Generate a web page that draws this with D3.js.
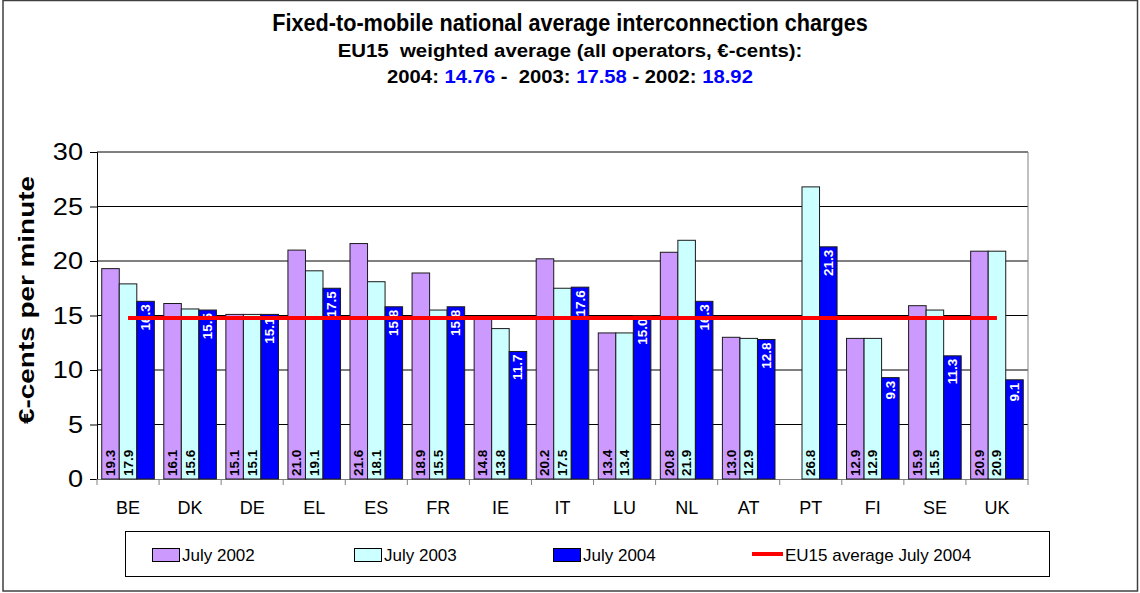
<!DOCTYPE html>
<html><head><meta charset="utf-8">
<script src="https://cdn.jsdelivr.net/npm/d3@7"></script>
<style>body{margin:0;background:#fff}text{font-family:"Liberation Sans",Arial,sans-serif}</style>
</head><body>
<svg id="c" width="1140" height="593"></svg>
<script>
const categories=["BE","DK","DE","EL","ES","FR","IE","IT","LU","NL","AT","PT","FI","SE","UK"];
const seriesNames=["July 2002","July 2003","July 2004"];
const v2002=[19.3,16.1,15.1,21.0,21.6,18.9,14.8,20.2,13.4,20.8,13.0,null,12.9,15.9,20.9];
const v2003=[17.9,15.6,15.1,19.1,18.1,15.5,13.8,17.5,13.4,21.9,12.9,26.8,12.9,15.5,20.9];
const v2004=[16.3,15.5,15.1,17.5,15.8,15.8,11.7,17.6,15.0,16.3,12.8,21.3,9.3,11.3,9.1];
const avgName="EU15 average July 2004";
const avg2004=14.76;
const avg2003=17.58;
const avg2002=18.92;
const yTicks=[0,5,10,15,20,25,30];
const colors=["#CC99FF","#CCFFFF","#0000FF"];

const svg=d3.select("#c");
svg.append("rect").attr("x",3).attr("y",0.5).attr("width",1134.5).attr("height",590.5)
  .attr("fill","#fff").attr("stroke","#404040").attr("stroke-width",1.5);

const L=97,R=1028,T=152,B=479;
const x=d3.scaleBand().domain(categories).range([L,R]);
const inner=d3.scaleBand().domain(seriesNames).range([0,x.bandwidth()]).paddingOuter(0.27);
const y=d3.scaleLinear().domain([0,30]).range([B,T]);

// gridlines
svg.append("g").selectAll("line").data(yTicks.filter(d=>d>0)).join("line")
  .attr("x1",L).attr("x2",R).attr("y1",d=>y(d)).attr("y2",d=>y(d))
  .attr("stroke","#000").attr("stroke-width",1);
svg.append("line").attr("x1",R).attr("x2",R).attr("y1",T).attr("y2",B).attr("stroke","#808080");

// y axis
const yAxis=d3.axisLeft(y).tickValues(yTicks).tickSize(7).tickPadding(0).tickFormat(()=>"");
const ya=svg.append("g").attr("transform",`translate(${L},0)`).call(yAxis);
ya.select(".domain").attr("stroke","#000");
ya.selectAll(".tick line").attr("stroke","#000");
svg.append("g").selectAll("g").data(yTicks).join("g")
  .attr("transform",d=>`translate(83,${y(d)}) scale(1.18,1)`)
  .append("text").attr("text-anchor","end").attr("dominant-baseline","central")
  .attr("font-size",23).attr("fill","#000").text(d=>d);

// x axis
const xa=svg.append("g").attr("transform",`translate(0,${B})`)
  .call(d3.axisBottom(x).tickSize(0).tickPadding(22));
xa.select(".domain").attr("stroke","#808080");
xa.selectAll(".tick text").attr("font-size",18).attr("fill","#000")
  .attr("font-family","'Liberation Sans',Arial,sans-serif");
svg.append("g").selectAll("line").data(categories.concat(["__end"])).join("line")
  .attr("x1",(d,i)=>i<categories.length?x(d):R).attr("x2",(d,i)=>i<categories.length?x(d):R)
  .attr("y1",B).attr("y2",B+6).attr("stroke","#808080");

// bars
const series=[v2002,v2003,v2004];
series.forEach((vals,si)=>{
  const g=svg.append("g");
  const data=categories.map((c,i)=>({c,v:vals[i]})).filter(d=>d.v!=null);
  g.selectAll("rect").data(data).join("rect")
    .attr("x",d=>x(d.c)+inner(seriesNames[si]))
    .attr("y",d=>y(d.v)).attr("width",inner.bandwidth())
    .attr("height",d=>B-y(d.v))
    .attr("fill",colors[si]).attr("stroke","#1a1a1a").attr("stroke-width",1);
  g.selectAll("text").data(data).join("text")
    .attr("transform",d=>{
      const cx=x(d.c)+inner(seriesNames[si])+inner.bandwidth()/2;
      const yy= si<2 ? B-3 : y(d.v)+3;
      return `translate(${cx},${yy}) rotate(-90)`;})
    .attr("text-anchor",si<2?"start":"end")
    .attr("dominant-baseline","central")
    .attr("font-size",13.5).attr("font-weight","bold")
    .attr("fill",si<2?"#000":"#fff")
    .text(d=>d.v.toFixed(1));
});

// average line
const ends=[categories[0],categories[categories.length-1]];
svg.append("path").datum(ends)
  .attr("d",d3.line().x(c=>x(c)+x.bandwidth()/2).y(()=>y(avg2004)))
  .attr("stroke","#FF0000").attr("stroke-width",4).attr("fill","none");

// titles
function fitText(t,w){const bb=t.node().getBBox();return w/bb.width;}
function titleLine(cx,yb,size,w,parts){
  const g=svg.append("g");
  const t=g.append("text").attr("text-anchor","middle").attr("font-weight","bold")
    .attr("font-size",size);
  parts.forEach(p=>t.append("tspan").attr("fill",p[1]).text(p[0]));
  const s=fitText(t,w);
  g.attr("transform",`translate(${cx},${yb}) scale(${s},1)`);
}
titleLine(570,31,23,596,[["Fixed-to-mobile national average interconnection charges","#000"]]);
titleLine(570,57,19,465,[["EU15\u00a0 weighted average (all operators, \u20ac-cents):","#000"]]);
titleLine(570,83,19,366,[["2004: ","#000"],[avg2004.toFixed(2),"#0000FF"],[" -\u00a0 2003: ","#000"],
  [avg2003.toFixed(2),"#0000FF"],[" - 2002: ","#000"],[avg2002.toFixed(2),"#0000FF"]]);

// y title
{
  const g=svg.append("g");
  const t=g.append("text").attr("text-anchor","middle").attr("font-weight","bold")
    .attr("font-size",22).attr("dominant-baseline","central").text("\u20ac-cents per minute");
  const s=fitText(t,248);
  g.attr("transform",`translate(26,300) rotate(-90) scale(${s},1)`);
}

// legend
svg.append("rect").attr("x",125.5).attr("y",531.5).attr("width",924).attr("height",45)
  .attr("fill","#fff").attr("stroke","#000").attr("stroke-width",1);
const legendItems=[
  {name:seriesNames[0],type:"rect",color:colors[0],x:152},
  {name:seriesNames[1],type:"rect",color:colors[1],x:354},
  {name:seriesNames[2],type:"rect",color:colors[2],x:553},
  {name:avgName,type:"line",color:"#FF0000",x:752}
];
legendItems.forEach(it=>{
  if(it.type==="rect"){
    svg.append("rect").attr("x",it.x+0.5).attr("y",548.5).attr("width",27).attr("height",13)
      .attr("fill",it.color).attr("stroke","#000");
  } else {
    svg.append("line").attr("x1",it.x).attr("x2",it.x+31).attr("y1",554).attr("y2",554)
      .attr("stroke",it.color).attr("stroke-width",4);
  }
  svg.append("text").attr("x",it.x+(it.type==="rect"?30:33)).attr("y",561)
    .attr("font-size",17).attr("fill","#000").text(it.name);
});
</script>
</body></html>
